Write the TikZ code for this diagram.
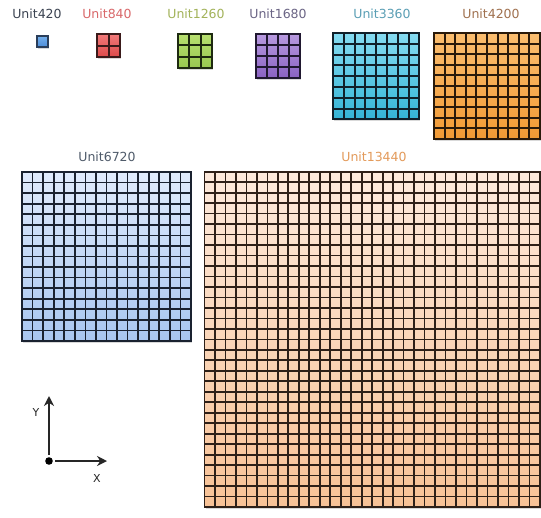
\documentclass[tikz,border=0pt]{standalone}
\usepackage{fontspec}
\setmainfont{DejaVu Sans}
\usetikzlibrary{arrows.meta}
\definecolor{t420}{HTML}{3C4452}
\definecolor{t840}{HTML}{D9686A}
\definecolor{t1260}{HTML}{A3B35A}
\definecolor{t1680}{HTML}{6B6585}
\definecolor{t3360}{HTML}{5B9FB5}
\definecolor{t4200}{HTML}{A0714F}
\definecolor{t6720}{HTML}{4F5B6A}
\definecolor{t13440}{HTML}{E39A5A}
% fills (top, bottom, lines)
\definecolor{a420}{HTML}{75B0EC}\definecolor{b420}{HTML}{4C8CD8}\definecolor{g420}{HTML}{2A3E5A}
\definecolor{a840}{HTML}{F27A7A}\definecolor{b840}{HTML}{DC4A4A}\definecolor{g840}{HTML}{3A1A1A}
\definecolor{a1260}{HTML}{B8E070}\definecolor{b1260}{HTML}{98C850}\definecolor{g1260}{HTML}{1E2A10}
\definecolor{a1680}{HTML}{B89AE0}\definecolor{b1680}{HTML}{8A62C2}\definecolor{g1680}{HTML}{201830}
\definecolor{a3360}{HTML}{86DCF2}\definecolor{b3360}{HTML}{34B4D6}\definecolor{g3360}{HTML}{10202A}
\definecolor{a4200}{HTML}{FBBE70}\definecolor{b4200}{HTML}{F29A34}\definecolor{g4200}{HTML}{2A1A0A}
\definecolor{a6720}{HTML}{E0EBFC}\definecolor{b6720}{HTML}{A8C6F0}\definecolor{g6720}{HTML}{1A2230}
\definecolor{a13440}{HTML}{FDEADC}\definecolor{b13440}{HTML}{F8C296}\definecolor{g13440}{HTML}{2E2018}
\newcommand\unitgrid[6]{%
  \pgfmathsetmacro\gw{#3*#4}%
  \fill[black,opacity=0.15] (#1+1,#2+2) rectangle ++(\gw,\gw);
  \shade[top color=a#5,bottom color=b#5] (#1,#2) rectangle ++(\gw,\gw);
  \foreach \k in {0,...,#3}{%
    \draw[g#5,line width=#6] (#1+\k*#4,#2) -- ++(0,\gw);
    \draw[g#5,line width=#6] (#1,#2+\k*#4) -- ++(\gw,0);
  }%
}
\tikzset{lab/.style={font=\fontsize{12.5}{14}\selectfont,inner sep=0pt,anchor=center},
  axlab/.style={font=\fontsize{11}{12}\selectfont,inner sep=0pt,text=black!85}}
\begin{document}
\begin{tikzpicture}[x=1pt,y=-1pt,line cap=rect]
\useasboundingbox[fill=white] (0,0) rectangle (541,517);
% labels
\node[lab,text=t420]   (l420)   at (37,14)  {Unit420};
\node[lab,text=t840]   (l840)   at (107,14) {Unit840};
\node[lab,text=t1260]  (l1260)  at (196,14) {Unit1260};
\node[lab,text=t1680]  (l1680)  at (278,14) {Unit1680};
\node[lab,text=t3360]  (l3360)  at (382,14) {Unit3360};
\node[lab,text=t4200]  (l4200)  at (491,14) {Unit4200};
\node[lab,text=t6720]  (l6720)  at (107,157) {Unit6720};
\node[lab,text=t13440] (l13440) at (374,157) {Unit13440};
% grids
\unitgrid{37}{36}{1}{11}{420}{1.6}
\unitgrid{97}{34}{2}{11.5}{840}{2}
\unitgrid{178}{34}{3}{11.3}{1260}{2}
\unitgrid{256}{34}{4}{11}{1680}{2}
\unitgrid{333}{33}{8}{10.8}{3360}{1.9}
\unitgrid{434}{33}{10}{10.6}{4200}{1.9}
\unitgrid{22}{172}{16}{10.56}{6720}{1.7}
\unitgrid{204.5}{171.7}{32}{10.48}{13440}{1.7}
% axes
\coordinate (o) at (49,461);
\coordinate (ytip) at (49,396);
\coordinate (xtip) at (107,461);
\draw[line width=2.6pt,black!85,line cap=butt,-{Stealth[length=10pt,width=10pt]}] (o) -- (ytip);
\draw[line width=2.6pt,black!85,line cap=butt,-{Stealth[length=10pt,width=10pt]}] (o) -- (xtip);
\fill[white] (o) circle (6);
\fill[black] (o) circle (3.8);
\node[axlab] (ylab) at (36,412) {Y};
\node[axlab] (xlab) at (97,478) {X};
\end{tikzpicture}
\end{document}
